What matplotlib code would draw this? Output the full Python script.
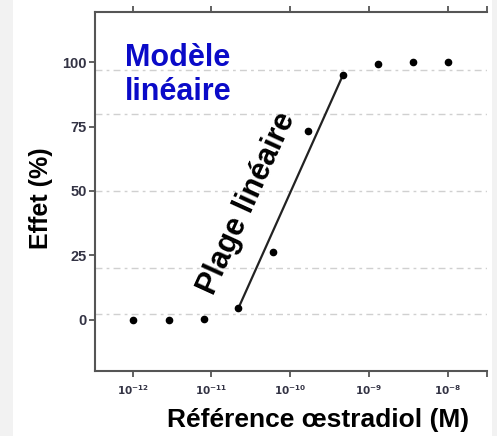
import numpy as np
import matplotlib
matplotlib.use("Agg")
import matplotlib.pyplot as plt
from matplotlib.patches import Rectangle

# concentrations (log10 M) and measured effect (%)
log_conc = [-12.0, -11.54, -11.1, -10.66, -10.22, -9.78, -9.33, -8.89, -8.44, -8.0]
effect = [0.0, 0.0, 0.4, 4.3, 26.4, 73.3, 95.0, 99.2, 100.0, 100.0]
# linear range: fitted segment between points 4 and 7
lin_idx = [3, 6]
grid_levels = [97, 80, 50, 20, 2.3]
y_ticks = [0, 25, 50, 75, 100]
x_tick_exp = [-12, -11, -10, -9, -8]

plt.rcParams["font.family"] = ["Liberation Sans", "DejaVu Sans"]
plt.rcParams["mathtext.default"] = "bf"


def main():
    fig = plt.figure(figsize=(4.97, 4.36), dpi=100)
    fig.patches.append(Rectangle((0, 0), 13 / 497, 1, transform=fig.transFigure,
                                 facecolor="#f2f2f2", edgecolor="none", zorder=-5))
    fig.patches.append(Rectangle((492 / 497, 0), 5 / 497, 1, transform=fig.transFigure,
                                 facecolor="#f2f2f2", edgecolor="none", zorder=-5))
    ax = fig.add_axes([95 / 497, 1 - 371 / 436, 392 / 497, 359 / 436])

    conc = 10.0 ** np.array(log_conc)
    ax.set_xscale("log")
    ax.set_xlim(10 ** -12.48, 10 ** -7.5)
    ax.set_ylim(-20, 119.5)

    for g in grid_levels:
        ax.axhline(g, color="#d0d0d0", lw=1.0, ls=(0, (5, 3, 2, 3)), zorder=1)

    ax.plot(conc[lin_idx], np.array(effect)[lin_idx], color="#222222", lw=1.6, zorder=2)
    ax.plot(conc, effect, "o", color="black", ms=4.5, zorder=3)

    ax.spines["right"].set_visible(False)
    for s in ["left", "top", "bottom"]:
        ax.spines[s].set_color("#555555")
        ax.spines[s].set_linewidth(1.5)

    ticks = [10.0 ** e for e in x_tick_exp] + [10 ** -7.5]
    labels = [r"$10^{%d}$" % e for e in x_tick_exp] + [""]
    ax.set_xticks(ticks)
    ax.set_xticklabels(labels)
    ax.xaxis.set_minor_locator(matplotlib.ticker.NullLocator())
    ax.tick_params(axis="x", top=True, bottom=True, direction="out", length=4,
                   width=1.3, color="#555555", labelsize=7.5, labelcolor="#333344", pad=5)
    ax.set_yticks(y_ticks)
    ax.tick_params(axis="y", direction="out", length=4, width=1.3, color="#555555",
                   labelsize=10.5, labelcolor="#333344", pad=2)
    for lab in ax.get_yticklabels():
        lab.set_fontweight("bold")

    ax.text(0.212, 0.825, "Modèle\nlinéaire", transform=ax.transAxes, ha="center",
            va="center", fontsize=22, fontweight="bold", color="#0a0ac8",
            linespacing=1.2)
    ax.text(10 ** -10.55, 45, "Plage linéaire", rotation=65.5, rotation_mode="anchor",
            ha="center", va="center", fontsize=22, fontweight="bold", color="black")

    fig.text(41 / 497, 1 - 198 / 436, "Effet (%)", rotation=90, ha="center", va="center",
             fontsize=18, fontweight="bold")
    fig.text(318 / 497, 1 - 420 / 436, "Référence œstradiol (M)", ha="center", va="center",
             fontsize=19, fontweight="bold")

    fig.savefig("out.png", dpi=100)


if __name__ == "__main__":
    main()
